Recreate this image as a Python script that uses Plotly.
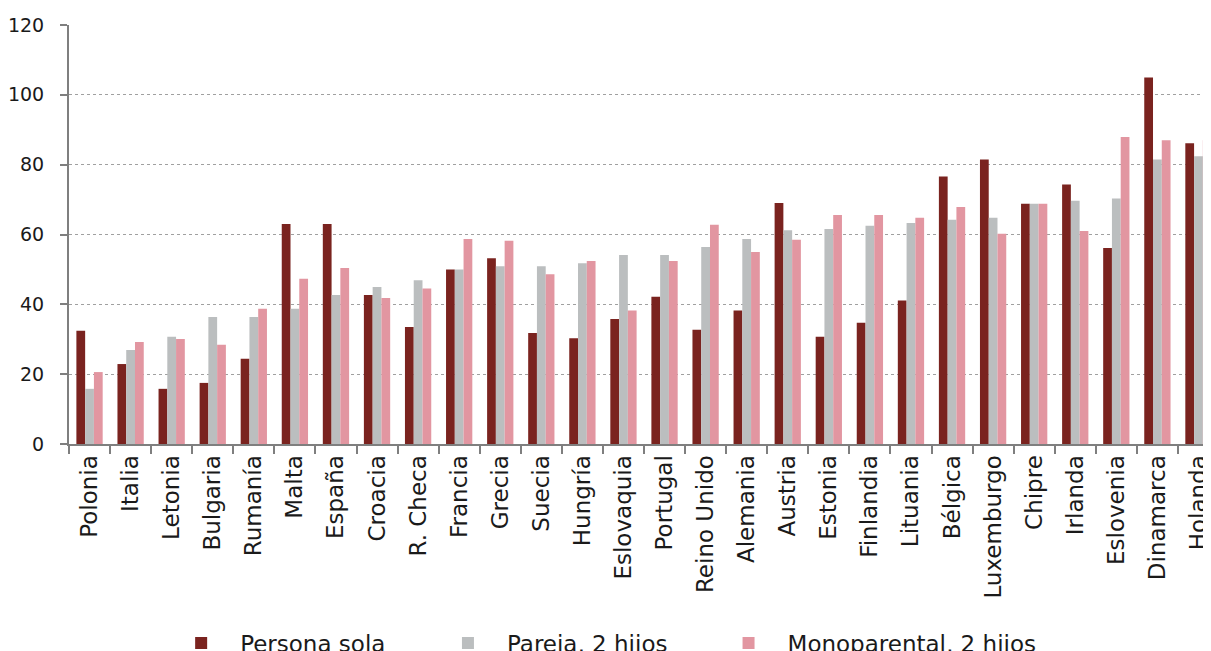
import plotly.graph_objects as go

countries = ["Polonia", "Italia", "Letonia", "Bulgaria", "Rumanía", "Malta", "España",
             "Croacia", "R. Checa", "Francia", "Grecia", "Suecia", "Hungría", "Eslovaquia",
             "Portugal", "Reino Unido", "Alemania", "Austria", "Estonia", "Finlandia",
             "Lituania", "Bélgica", "Luxemburgo", "Chipre", "Irlanda", "Eslovenia",
             "Dinamarca", "Holanda"]

persona_sola = [32.4, 22.9, 15.8, 17.5, 24.4, 63.0, 63.0, 42.7, 33.5, 50.0, 53.2, 31.8,
                30.3, 35.8, 42.2, 32.7, 38.2, 69.0, 30.7, 34.7, 41.1, 76.6, 81.5, 68.8,
                74.3, 56.1, 105.0, 86.1]
pareja_2_hijos = [15.8, 26.9, 30.7, 36.4, 36.4, 38.7, 42.7, 45.0, 46.9, 50.0, 50.9, 50.9,
                  51.8, 54.1, 54.1, 56.4, 58.7, 61.2, 61.6, 62.5, 63.3, 64.2, 64.8, 68.8,
                  69.7, 70.3, 81.5, 82.4]
monoparental_2_hijos = [20.6, 29.2, 30.1, 28.4, 38.7, 47.3, 50.4, 41.8, 44.5, 58.7, 58.2,
                        48.6, 52.4, 38.2, 52.4, 62.8, 55.0, 58.5, 65.6, 65.6, 64.8, 67.9,
                        60.2, 68.8, 61.0, 87.9, 87.0, 87.0]

series_names = ["Persona sola", "Pareja, 2 hijos", "Monoparental, 2 hijos"]
series_colors = ["#7A231F", "#BBBEBF", "#E296A1"]
y_ticks = [0, 20, 40, 60, 80, 100, 120]

FONT = "DejaVu Sans"
legend_ids = ["legend", "legend2", "legend3"]
legend_x = [0.081, 0.313, 0.557]

fig = go.Figure()
for name, vals, col, lid in zip(series_names,
                                [persona_sola, pareja_2_hijos, monoparental_2_hijos],
                                series_colors, legend_ids):
    fig.add_trace(go.Bar(x=countries, y=vals, name=name, marker_color=col,
                         marker_line_width=0, legend=lid))

legend_style = dict(orientation="h", xanchor="left", y=-0.475, yanchor="middle",
                    itemwidth=68, font=dict(family=FONT, size=23, color="#1a1a1a"),
                    bgcolor="rgba(0,0,0,0)")

fig.update_layout(
    width=1211, height=651,
    margin=dict(l=61, r=0, t=17, b=215, autoexpand=False),
    plot_bgcolor="white", paper_bgcolor="white",
    barmode="group", bargap=0.36, bargroupgap=0,
    font=dict(family=FONT, size=22, color="#1a1a1a"),
    showlegend=True,
    legend=dict(x=legend_x[0], **legend_style),
    legend2=dict(x=legend_x[1], **legend_style),
    legend3=dict(x=legend_x[2], **legend_style),
)
fig.update_xaxes(
    range=[-0.5, 27.5], automargin=False,
    tickangle=-90, showline=True, linecolor="#7f7f7f", linewidth=2,
    ticks="outside", tickson="boundaries", ticklen=8, tickcolor="#7f7f7f", tickwidth=2,
    showgrid=False, tickfont=dict(family=FONT, size=23, color="#1a1a1a"),
    ticklabeloverflow="allow",
)
fig.update_yaxes(
    range=[0, 120], tickvals=y_ticks, automargin=False, showline=True,
    linecolor="#7f7f7f", linewidth=2,
    ticks="outside", ticklen=7, tickcolor="#7f7f7f", tickwidth=2,
    showgrid=True, gridcolor="#a0a0a0", griddash="dot", gridwidth=1,
    zeroline=False, tickfont=dict(family=FONT, size=19, color="#1a1a1a"),
    ticklabelstandoff=12,
)

fig.write_html("out.html")
